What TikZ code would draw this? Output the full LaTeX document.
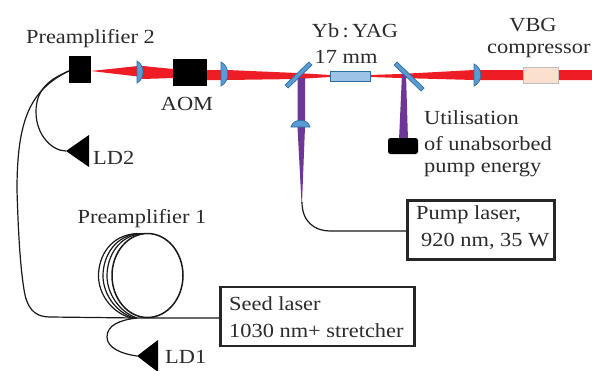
\documentclass[tikz,border=0pt]{standalone}
\usepackage{fontspec}
\setmainfont[FakeStretch=1.12]{Liberation Serif}
\definecolor{ink}{HTML}{2B2B2B}
\definecolor{beamred}{HTML}{EE1C25}
\definecolor{pumpviolet}{HTML}{6E3696}
\definecolor{optblue}{HTML}{5B9BD5}
\definecolor{optedge}{HTML}{2E6E9E}
\definecolor{crystal}{HTML}{9DC3E6}
\definecolor{peach}{HTML}{FBE0CF}
\tikzset{
  lbl/.style={inner sep=0pt,text=ink,font=\fontsize{20}{20}\selectfont},
  lblw/.style={lbl,anchor=west},
  textbox/.style={draw=black!85,line width=2.3pt,fill=white,inner sep=0pt},
  fibre/.style={draw=black!90,line width=1.2pt},
  lensbody/.style={fill=optblue,draw=optedge,line width=.7pt},
  optbar/.style={draw=optedge,line width=.7pt,fill=optblue},
  diode/.style={fill=black,draw=none},
}
\begin{document}
\begin{tikzpicture}[x=1pt,y=-1pt]
\useasboundingbox (0,0) rectangle (592,370);
\clip (0,0) rectangle (592,370);
% beams
\fill[beamred] (91,71) -- (138,66) -- (143,66) -- (173,69) -- (173,78) -- (143,79) -- (138,76.5) -- cycle;
\fill[beamred] (207,70) -- (227,70) -- (297,73) -- (330,75) -- (370,75) -- (400,74) -- (474,70) -- (592,70)
  -- (592,80) -- (474,80) -- (400,78) -- (370,77) -- (330,77) -- (297,79) -- (227,80) -- (207,80) -- cycle;
\fill[pumpviolet] (297.5,78) -- (305,78) -- (305,127) -- (302,203) -- (301.5,203) -- (297.5,127) -- cycle;
\fill[pumpviolet] (402,74) -- (406,74) -- (408,140) -- (399,140) -- cycle;
% optics
\path[lensbody] (137,61) .. controls (145,65) and (145,79) .. (137,83) -- cycle;
\path[lensbody] (221,62) .. controls (230,66) and (230,82) .. (221,86) -- cycle;
\path[lensbody] (474,64) .. controls (483,68) and (483,82) .. (474,86) -- cycle;
\path[lensbody] (291,127) .. controls (293,118) and (308,118) .. (310,127) -- cycle;
\path[optbar] (285,85) -- (309,62) -- (312,65) -- (288,88) -- cycle;
\path[optbar] (397,62) -- (424,88) -- (421,91) -- (394,65) -- cycle;
% blocks
\node[fill=black,inner sep=0pt,minimum width=22pt,minimum height=27pt] (pre2) at (80,69.5) {};
\node[fill=black,inner sep=0pt,minimum width=34pt,minimum height=27pt] (aom) at (190,72.5) {};
\node[fill=black,inner sep=0pt,minimum width=30pt,minimum height=16pt,rounded corners=2.5pt] (dump) at (403,146) {};
\node[draw=optedge,line width=.7pt,fill=crystal,inner sep=0pt,minimum width=40pt,minimum height=10pt] (yag) at (350,76) {};
\node[draw=black!25,line width=.7pt,fill=peach,inner sep=0pt,minimum width=35pt,minimum height=16pt] (vbg) at (540.5,75) {};
% diodes
\fill[diode] (66,151) -- (89,135) -- (89,167) -- cycle;
\coordinate (ld2tip) at (66,151);
\fill[diode] (137,356) -- (158,340) -- (158,372) -- cycle;
\coordinate (ld1tip) at (137,356);
% boxes
\node[textbox,minimum width=147pt,minimum height=59pt] (pump) at (481,230) {};
\node[textbox,minimum width=194pt,minimum height=59pt] (seed) at (317.5,316.5) {};
\coordinate (pumpfib) at (302,202);
\coordinate (coilb) at (137,318);
% fibres
\draw[fibre] (pre2.west) ++(0,1.5) .. controls (48,80) and (36,90) .. (36,112) .. controls (36,135) and (52,151) .. (ld2tip);
\draw[fibre] (pre2.west) ++(0,1.5) .. controls (30,90) and (17,120) .. (17,190) .. controls (18,225) and (20,270) .. (25,295) .. controls (29,312) and (38,317) .. (50,317) -- (coilb) -- (seed.west |- coilb);
\draw[fibre] (coilb) .. controls (120,320) and (107,325) .. (107,337) .. controls (107,348) and (122,354) .. (ld1tip);
\draw[fibre] (pumpfib) .. controls (302,222) and (315,231) .. (330,231) -- (pump.west |- 0,231);
% coil
\draw[line width=1.5pt,draw=black!90] (147.5,275.5) ellipse [x radius=35.5pt,y radius=42pt];
\foreach \l/\t/\b in {107/143/131,103/140/128,98.5/137/125}{
  \draw[line width=1.2pt,draw=black!90] (\t,233.5) .. controls ({\l+12},235) and (\l,256) .. (\l,276) .. controls (\l,293) and ({\l+12},312) .. (\b+6,318);
}
% labels
\node[lbl] (tpre2) at (90.5,39) {Preamplifier 2};
\node[lbl] (taom) at (187,104) {AOM};
\node[lblw] (tld2) at (93,158) {LD2};
\node[lblw] (tld1) at (165,357) {LD1};
\node[lbl] (tpre1) at (142,219) {Preamplifier 1};
\node[lbl] (tyb) at (355,31) {Yb\,:\,YAG};
\node[lbl] (tmm) at (346,57) {17 mm};
\node[lbl] (tvbg) at (533,25) {VBG};
\node[lblw] (tcomp) at (487,51) {compressor};
\node[lblw] (tu1) at (424,118) {Utilisation};
\node[lblw] (tu2) at (424,144) {of unabsorbed};
\node[lblw] (tu3) at (424,170) {pump energy};
\node[lblw] (tp1) at (416,215) {Pump laser,};
\node[lblw] (tp2) at (421,241) {920 nm, 35 W};
\node[lblw] (ts1) at (229,304) {Seed laser};
\node[lblw] (ts2) at (229,331) {1030 nm+ stretcher};
\end{tikzpicture}
\end{document}
